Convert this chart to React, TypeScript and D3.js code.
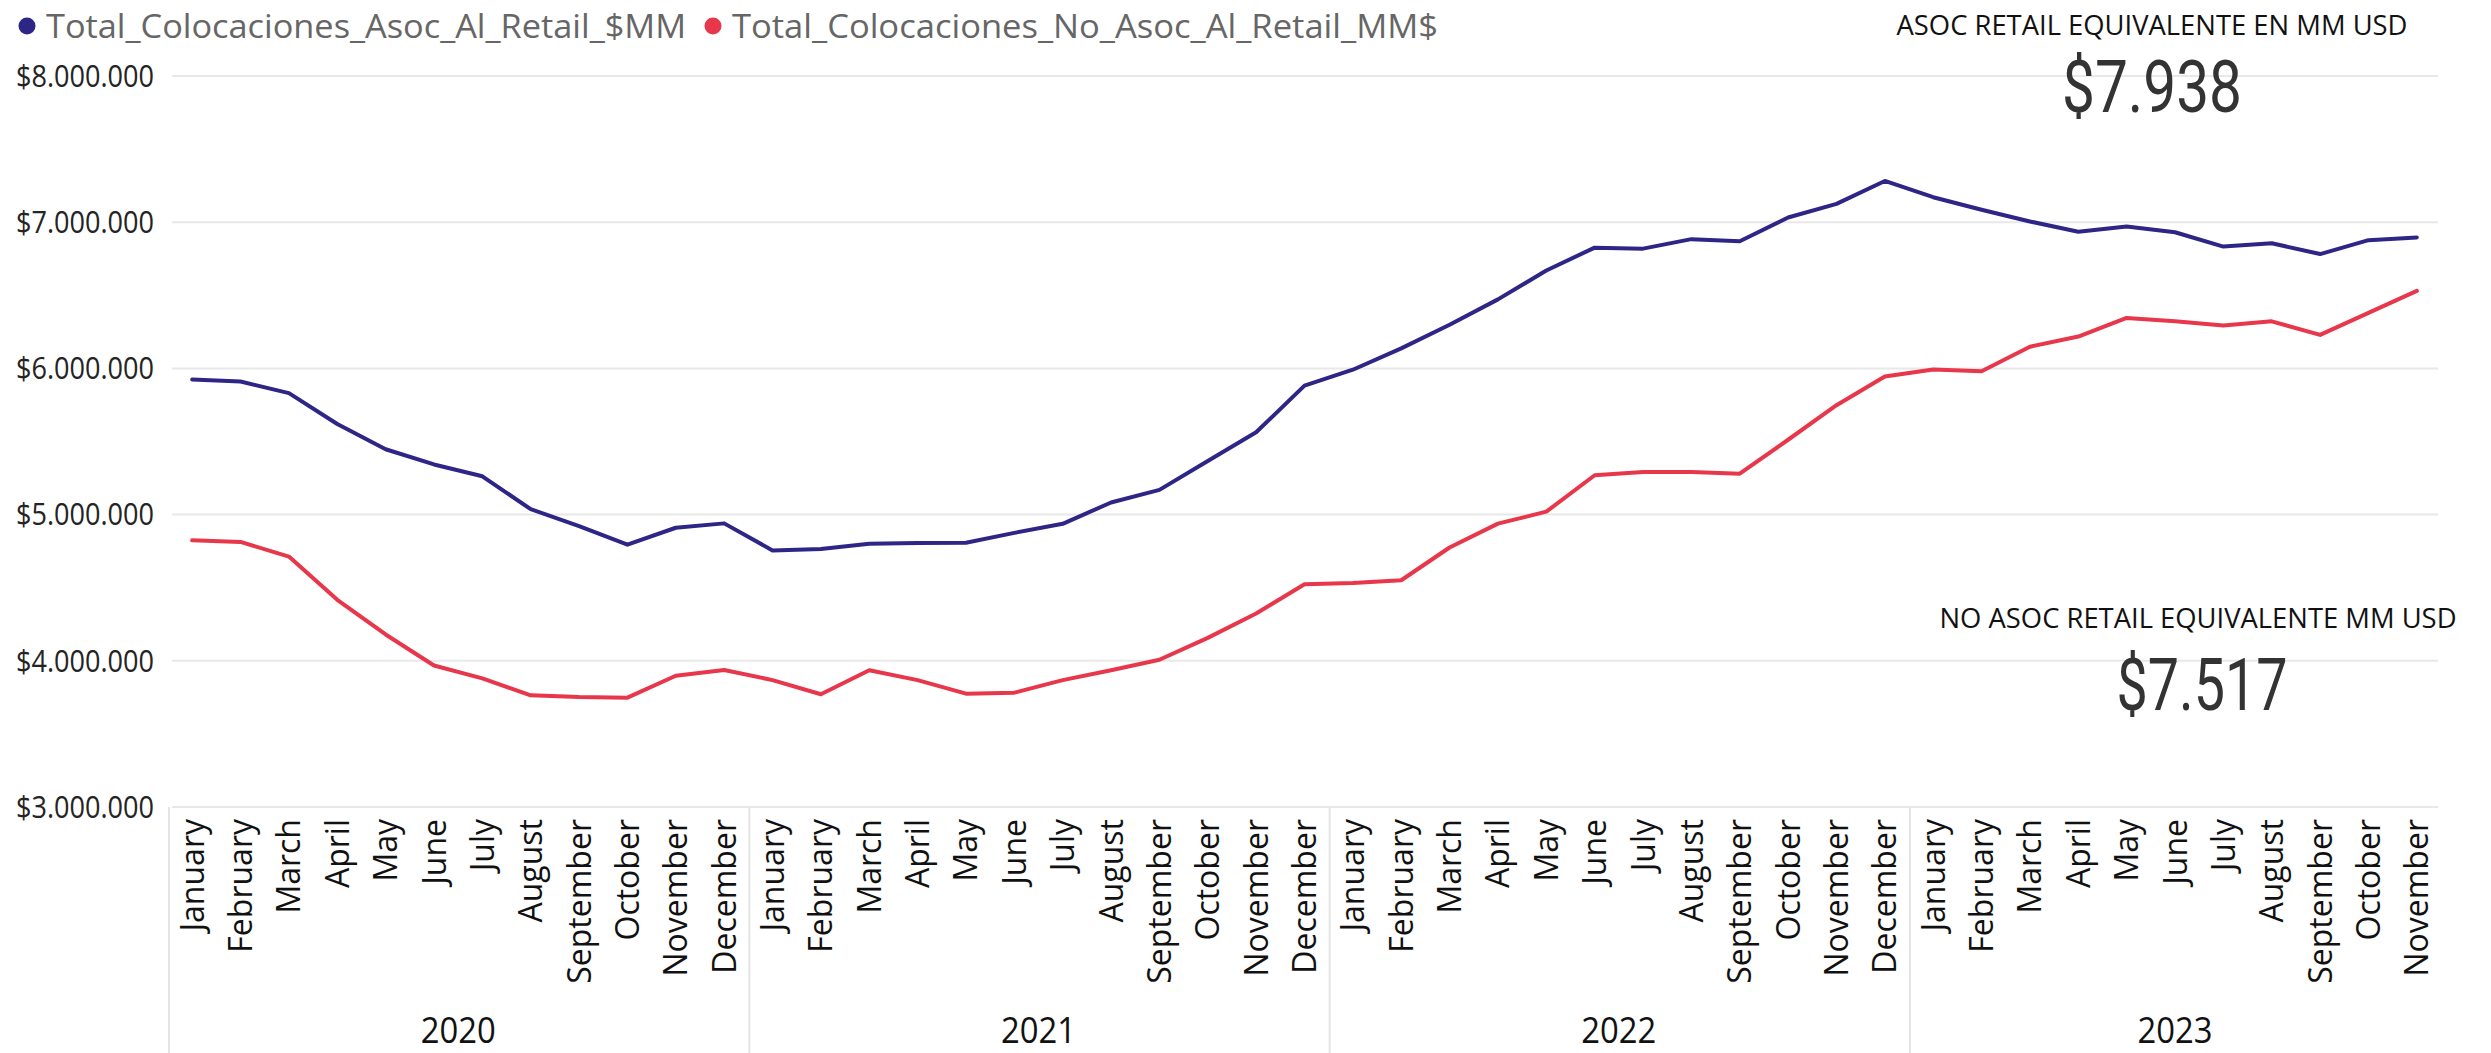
import React from "react";
import * as d3 from "d3";

const monthNames = ["January","February","March","April","May","June","July","August","September","October","November","December"];
const years = ["2020", "2021", "2022", "2023"];
const monthsPerYear = [12, 12, 12, 11];

const seriesNames = ["Total_Colocaciones_Asoc_Al_Retail_$MM", "Total_Colocaciones_No_Asoc_Al_Retail_MM$"];
const seriesColors = ["#2E2686", "#E8364B"];

const asocRetail = [
  5924000, 5910000, 5831000, 5620000, 5447000, 5343000, 5262000, 5037000, 4921000, 4794000, 4910000, 4940000,
  4755000, 4764000, 4801000, 4806000, 4808000, 4875000, 4937000, 5083000, 5169000, 5366000, 5563000, 5882000,
  5991000, 6137000, 6299000, 6472000, 6670000, 6826000, 6819000, 6884000, 6870000, 7032000, 7125000, 7282000,
  7171000, 7085000, 7005000, 6935000, 6970000, 6931000, 6833000, 6856000, 6782000, 6877000, 6896000,
];
const noAsocRetail = [
  4824000, 4813000, 4713000, 4417000, 4180000, 3968000, 3880000, 3764000, 3752000, 3748000, 3898000, 3937000,
  3868000, 3771000, 3935000, 3868000, 3775000, 3782000, 3868000, 3935000, 4007000, 4157000, 4324000, 4523000,
  4532000, 4551000, 4775000, 4938000, 5020000, 5269000, 5292000, 5292000, 5280000, 5512000, 5748000, 5944000,
  5993000, 5981000, 6148000, 6218000, 6345000, 6322000, 6294000, 6322000, 6229000, 6380000, 6530000,
];
const yTicks = [3000000, 4000000, 5000000, 6000000, 7000000, 8000000];

const kpiTitles = ["ASOC RETAIL EQUIVALENTE EN MM USD", "NO ASOC RETAIL EQUIVALENTE MM USD"];
const kpiValues = ["$7.938", "$7.517"];

const W = 2491;
const H = 1053;
const FONT = "'Open Sans', 'Noto Sans', sans-serif";

export default function App() {
  const points = years.flatMap((yr, yi) =>
    d3.range(monthsPerYear[yi]).map((m) => ({ key: `${yr}-${m}`, year: yr, month: monthNames[m] }))
  );
  const x = d3.scaleBand<string>().domain(points.map((p) => p.key)).range([168, 2441]).padding(0);
  const y = d3.scaleLinear().domain([3000000, 8000000]).range([807, 76]);
  const bw = x.bandwidth();
  const cx = (i: number) => (x(points[i].key) as number) + bw / 2;

  const locale = d3.formatLocale({ decimal: ",", thousands: ".", grouping: [3], currency: ["$", ""] });
  const fmt = locale.format("$,.0f");

  const line = d3
    .line<number>()
    .x((_, i) => cx(i))
    .y((d) => y(d));

  const series = [asocRetail, noAsocRetail];

  let start = 0;
  const groups = years.map((yr, yi) => {
    const s = start;
    const e = start + monthsPerYear[yi] - 1;
    start += monthsPerYear[yi];
    const x0 = x(points[s].key) as number;
    const x1 = (x(points[e].key) as number) + bw;
    return { yr, x0, x1 };
  });

  const gridX0 = 172;
  const gridX1 = 2438;

  return (
    <svg
      width={W}
      height={H}
      style={{ position: "absolute", left: 0, top: 0, background: "#fff" }}
      fontFamily={FONT}
    >
      {/* legend */}
      <g>
        <circle cx={27} cy={26} r={8.5} fill={seriesColors[0]} />
        <text x={46} y={26} dy="0.36em" fontSize={33} fill="#666" textLength={640} lengthAdjust="spacingAndGlyphs">
          {seriesNames[0]}
        </text>
        <circle cx={713} cy={26} r={8.5} fill={seriesColors[1]} />
        <text x={732} y={26} dy="0.36em" fontSize={33} fill="#666" textLength={706} lengthAdjust="spacingAndGlyphs">
          {seriesNames[1]}
        </text>
      </g>

      {/* gridlines + y labels */}
      {yTicks.map((t) => (
        <g key={t}>
          <line x1={gridX0} x2={gridX1} y1={y(t)} y2={y(t)} stroke="#E8E8E8" strokeWidth={2} />
          <text x={154} y={y(t)} dy="0.35em" textAnchor="end" fontSize={31} fill="#252423" textLength={138} lengthAdjust="spacingAndGlyphs">
            {fmt(t)}
          </text>
        </g>
      ))}

      {/* year separators */}
      {groups.map((g, i) => (
        <line key={"sep" + i} x1={g.x0 + 1} x2={g.x0 + 1} y1={807} y2={H} stroke="#E4E4E4" strokeWidth={2} />
      ))}

      {/* month labels */}
      {points.map((p, i) => (
        <text
          key={p.key}
          transform={`translate(${cx(i)},819) rotate(-90)`}
          textAnchor="end"
          dy="0.36em"
          fontSize={32}
          fill="#111"
        >
          {p.month}
        </text>
      ))}

      {/* year labels */}
      {groups.map((g) => (
        <text key={g.yr} x={(g.x0 + g.x1) / 2} y={1030} dy="0.36em" textAnchor="middle" fontSize={37} fill="#111" textLength={75} lengthAdjust="spacingAndGlyphs">
          {g.yr}
        </text>
      ))}

      {/* lines */}
      {series.map((s, si) => (
        <path
          key={si}
          d={line(s) as string}
          fill="none"
          stroke={seriesColors[si]}
          strokeWidth={4}
          strokeLinejoin="round"
          strokeLinecap="round"
        />
      ))}

      {/* KPI cards */}
      <text x={2152} y={25} dy="0.36em" textAnchor="middle" fontSize={28} fill="#111" textLength={511} lengthAdjust="spacingAndGlyphs">
        {kpiTitles[0]}
      </text>
      <text x={2152} y={112} textAnchor="middle" fontSize={72} fill="#333" fontFamily="Roboto, sans-serif" textLength={180} lengthAdjust="spacingAndGlyphs">
        {kpiValues[0]}
      </text>
      <text x={2198} y={618} dy="0.36em" textAnchor="middle" fontSize={28} fill="#111" textLength={517} lengthAdjust="spacingAndGlyphs">
        {kpiTitles[1]}
      </text>
      <text x={2202} y={710} textAnchor="middle" fontSize={72} fill="#333" fontFamily="Roboto, sans-serif" textLength={171} lengthAdjust="spacingAndGlyphs">
        {kpiValues[1]}
      </text>
    </svg>
  );
}
